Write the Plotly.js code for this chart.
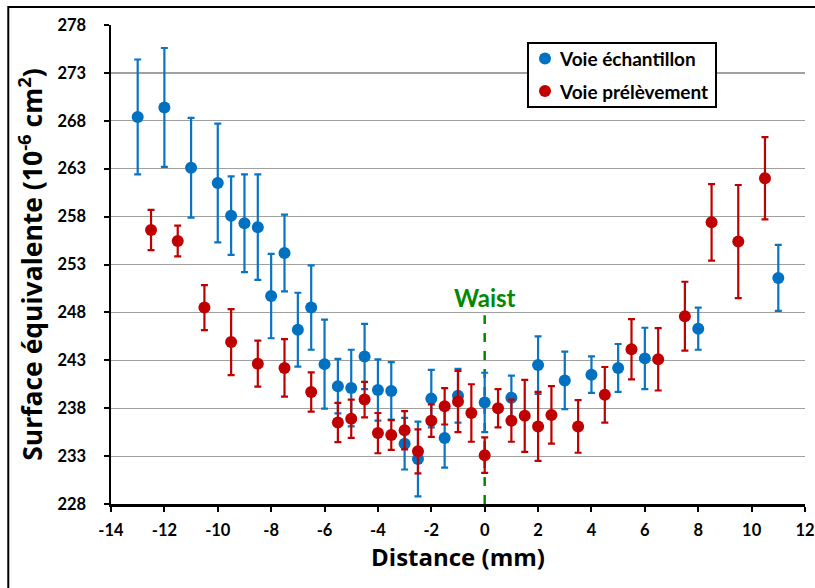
<!DOCTYPE html>
<html>
<head>
<meta charset="utf-8">
<script src="https://cdn.plot.ly/plotly-3.0.1.min.js"></script>
<style>html,body{margin:0;padding:0;background:#fff;}#chart{width:815px;height:588px;}</style>
</head>
<body>
<div id="chart"></div>
<script>
// Voie échantillon (blue)
const xEch = [-13,-12,-11,-10,-9.5,-9,-8.5,-8,-7.5,-7,-6.5,-6,-5.5,-5,-4.5,-4,-3.5,-3,-2.5,-2,-1.5,-1,0,1,2,3,4,5,6,8,11];
const yEch = [268.4,269.4,263.1,261.5,258.1,257.3,256.9,249.7,254.2,246.2,248.5,242.6,240.3,240.1,243.4,239.9,239.8,234.3,232.7,239.0,234.9,239.3,238.6,239.1,242.5,240.9,241.5,242.2,243.2,246.3,251.6];
const eEch = [6,6.2,5.2,6.2,4.1,5.1,5.5,4.4,4,3.85,4.4,4.65,2.85,4,3.4,3.2,3,2.7,3.9,3,3.1,2.8,3.1,2.3,3,3,1.9,2.5,3.2,2.2,3.45];
// Voie prélèvement (red)
const xPre = [-12.5,-11.5,-10.5,-9.5,-8.5,-7.5,-6.5,-5.5,-5,-4.5,-4,-3.5,-3,-2.5,-2,-1.5,-1,-0.5,0,0.5,1,1.5,2,2.5,3.5,4.5,5.5,6.5,7.5,8.5,9.5,10.5];
const yPre = [256.6,255.45,248.5,244.9,242.65,242.2,239.7,236.5,236.9,238.9,235.4,235.2,235.7,233.5,236.7,238.2,238.7,237.5,233.1,238.0,236.7,237.2,236.1,237.3,236.1,239.4,244.15,243.1,247.6,257.4,255.4,262.0];
const ePre = [2.1,1.6,2.35,3.45,2.4,3,2.05,2.05,2,1.85,2.1,1.55,2,2.3,1.7,1.9,3.2,3,1.85,2,2.2,3.75,3.6,3,2.75,2.9,3.15,3.25,3.6,4,5.9,4.3];
const yTicks = [228,233,238,243,248,253,258,263,268,273,278];
const xTicks = [-14,-12,-10,-8,-6,-4,-2,0,2,4,6,8,10,12];
const seriesNames = ['Voie échantillon','Voie prélèvement'];
const seriesColors = ['#0070C0','#C00000'];
const waistX = [0,0];
const waistY = [228,247.7];

const W = 815, H = 588, ML = 111, MR = 10, MT = 25, MB = 84;
const PW = W - ML - MR, PH = H - MT - MB;
const px = v => (v - ML) / PW;          // pixel x -> paper
const py = v => (H - MB - v) / PH;      // pixel y -> paper

const FONT = 'Lato, "Open Sans", sans-serif';
const TFONT = '"Open Sans", Lato, sans-serif';
const traces = [
  {x: waistX, y: waistY, mode:'lines', line:{color:'#008a00', width:2.5, dash:'dash'}, showlegend:false, hoverinfo:'skip'},
  {x: xEch, y: yEch, name:seriesNames[0], mode:'markers', type:'scatter',
   marker:{color:seriesColors[0], size:12},
   error_y:{type:'data', array:eEch, visible:true, color:'#0A74C4', thickness:2.2, width:3.5}},
  {x: xPre, y: yPre, name:seriesNames[1], mode:'markers', type:'scatter',
   marker:{color:seriesColors[1], size:12},
   error_y:{type:'data', array:ePre, visible:true, color:seriesColors[1], thickness:2.2, width:3.5}}
];
const legY = [58.5, 91];
const annotations = [{x:0, y:249.6, xref:'x', yref:'y', text:'Waist', showarrow:false,
                font:{size:24, color:'#008a00', weight:'bold', family:FONT}}];
const shapes = [{type:'rect', xref:'paper', yref:'paper', x0:-0.148, x1:1.03, y0:-0.2, y1:1.0376,
           line:{color:'#000', width:2}, layer:'above'},
          {type:'rect', xref:'paper', yref:'paper', x0:px(528), x1:px(716), y0:py(107), y1:py(43),
           fillcolor:'#fff', line:{color:'#000', width:2}, layer:'above'}];
seriesNames.forEach((n,i) => {
  shapes.push({type:'circle', xref:'paper', yref:'paper', xsizemode:'pixel', ysizemode:'pixel',
    xanchor:px(545), yanchor:py(legY[i]), x0:-6, x1:6, y0:-6, y1:6,
    fillcolor:seriesColors[i], line:{width:0}, layer:'above'});
  annotations.push({xref:'paper', yref:'paper', x:px(557), y:py(legY[i]), xanchor:'left', yanchor:'middle',
    text:n, showarrow:false, font:{size:19, weight:'bold', family:FONT, color:'#000'}});
});
const layout = {
  width:W, height:H,
  margin:{l:ML, r:MR, t:MT, b:MB},
  paper_bgcolor:'#fff', plot_bgcolor:'#fff',
  font:{family:FONT, color:'#000'},
  showlegend:false,
  xaxis:{range:[-14,12], tickvals:xTicks, ticktext:xTicks.map(String), showgrid:false, zeroline:false,
         showline:true, linecolor:'#000', linewidth:2.5, ticks:'outside', ticklen:5, tickwidth:2, tickcolor:'#000',
         tickfont:{size:16.5, weight:'bold', family:FONT}, ticklabelstandoff:5,
         title:{text:'Distance (mm)', font:{size:24, weight:'bold', family:TFONT}, standoff:10}},
  yaxis:{range:[228,278], tickvals:yTicks, ticktext:yTicks.map(String), showgrid:true, gridcolor:'#a0a0a0', gridwidth:1.2,
         zeroline:false, showline:true, linecolor:'#000', linewidth:2.5, ticks:'outside', ticklen:5, tickwidth:2, tickcolor:'#000',
         tickfont:{size:16.5, weight:'bold', family:FONT}, ticklabelstandoff:14,
         title:{text:'Surface équivalente (10<sup>-6</sup> cm<sup>2</sup>)', font:{size:26.5, weight:'bold', family:TFONT}, standoff:7}},
  annotations:annotations,
  shapes:shapes
};
Plotly.newPlot('chart', traces, layout, {displayModeBar:false, staticPlot:true});
</script>
</body>
</html>
